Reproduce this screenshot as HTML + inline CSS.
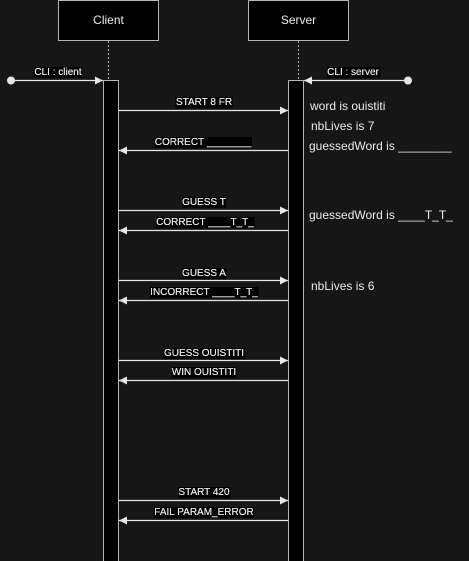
<!DOCTYPE html>
<html><head><style>
html,body{margin:0;padding:0;background:#161616;}
svg{display:block;}
text{font-family:"Liberation Sans",Arial,sans-serif;fill:#ececec;}
.l{filter:url(#bg);}
</style></head><body>
<svg width="469" height="561" viewBox="0 0 469 561" xmlns="http://www.w3.org/2000/svg">
<defs>
<marker id="a" markerWidth="10" markerHeight="10" refX="8" refY="4" orient="auto" markerUnits="userSpaceOnUse">
<path d="M0,0 L8,4 L0,8 Z" fill="#e6e6e6"/></marker>
<filter id="bg" x="0" y="0" width="1" height="1">
<feFlood flood-color="#000"/>
<feMerge><feMergeNode/><feMergeNode in="SourceGraphic"/></feMerge>
</filter>
</defs>
<rect width="469" height="561" fill="#161616"/>
<rect x="58.5" y="0.5" width="100" height="40" fill="#000" stroke="#b3b3b3"/>
<text x="108.5" y="24" font-size="12" text-anchor="middle">Client</text>
<rect x="248.5" y="0.5" width="100" height="40" fill="#000" stroke="#b3b3b3"/>
<text x="298.5" y="24" font-size="12" text-anchor="middle">Server</text>
<line x1="108.5" y1="41" x2="108.5" y2="80" stroke="#b3b3b3" stroke-dasharray="2,2"/>
<line x1="298.5" y1="41" x2="298.5" y2="80" stroke="#b3b3b3" stroke-dasharray="2,2"/>
<rect x="103.5" y="80.5" width="15" height="485" fill="#000" stroke="#b3b3b3"/>
<rect x="288.5" y="80.5" width="15" height="485" fill="#000" stroke="#b3b3b3"/>
<g stroke="#e6e6e6" stroke-width="1.2" fill="none">
<line x1="11" y1="80.5" x2="103" y2="80.5" marker-end="url(#a)"/>
<line x1="408" y1="80.5" x2="304" y2="80.5" marker-end="url(#a)"/>
<line x1="119" y1="110.5" x2="288" y2="110.5" marker-end="url(#a)"/>
<line x1="288" y1="150.5" x2="119" y2="150.5" marker-end="url(#a)"/>
<line x1="119" y1="210.5" x2="288" y2="210.5" marker-end="url(#a)"/>
<line x1="288" y1="230.5" x2="119" y2="230.5" marker-end="url(#a)"/>
<line x1="119" y1="280.5" x2="288" y2="280.5" marker-end="url(#a)"/>
<line x1="288" y1="300.5" x2="119" y2="300.5" marker-end="url(#a)"/>
<line x1="119" y1="360.5" x2="288" y2="360.5" marker-end="url(#a)"/>
<line x1="288" y1="380.5" x2="119" y2="380.5" marker-end="url(#a)"/>
<line x1="119" y1="500.5" x2="288" y2="500.5" marker-end="url(#a)"/>
<line x1="288" y1="520.5" x2="119" y2="520.5" marker-end="url(#a)"/>
</g>
<circle cx="11" cy="80.5" r="4" fill="#e6e6e6"/>
<circle cx="408" cy="80.5" r="4" fill="#e6e6e6"/>
<g font-size="10" text-anchor="middle">
<text class="l" x="58" y="75">CLI : client</text>
<text class="l" x="353" y="75">CLI : server</text>
<text class="l" x="204" y="105">START 8 FR</text>
<text class="l" x="203" y="145">CORRECT ________</text>
<text class="l" x="204" y="205">GUESS T</text>
<text class="l" x="205" y="225">CORRECT ____T_T_</text>
<text class="l" x="204" y="276">GUESS A</text>
<text class="l" x="204" y="295">INCORRECT ____T_T_</text>
<text class="l" x="204" y="356">GUESS OUISTITI</text>
<text class="l" x="204" y="375">WIN OUISTITI</text>
<text class="l" x="204" y="495">START 420</text>
<text class="l" x="204" y="515">FAIL PARAM_ERROR</text>
</g>
<g font-size="12">
<text x="310" y="110">word is ouistiti</text>
<text x="311" y="130">nbLives is 7</text>
<text x="309" y="150">guessedWord is ________</text>
<text x="309" y="219">guessedWord is ____T_T_</text>
<text x="311" y="290">nbLives is 6</text>
</g>
</svg>
</body></html>
